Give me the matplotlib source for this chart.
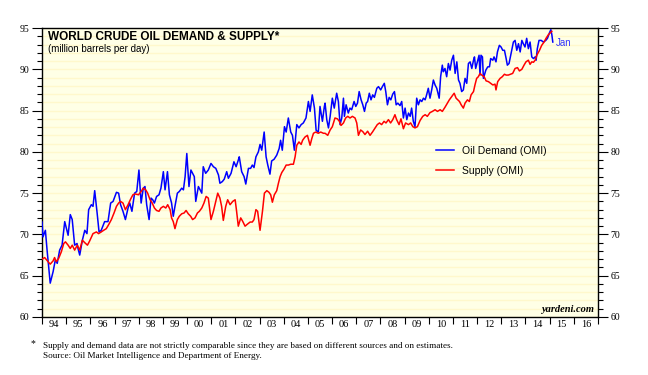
import matplotlib
matplotlib.use('Agg')
import matplotlib.pyplot as plt
from matplotlib.ticker import MultipleLocator, FixedLocator, NullFormatter

# values: decimal year, million barrels per day
demand_year = [
    1994.00, 1994.04, 1994.14, 1994.21, 1994.34, 1994.46, 1994.55, 1994.63, 1994.73, 1994.83, 1994.94,
    1995.08, 1995.17, 1995.25, 1995.35, 1995.45, 1995.49, 1995.56, 1995.67, 1995.77, 1995.86, 1995.93,
    1996.04, 1996.11, 1996.18, 1996.28, 1996.36, 1996.45, 1996.59, 1996.73, 1996.84, 1996.94,
    1997.08, 1997.17, 1997.25, 1997.35, 1997.45, 1997.56, 1997.63, 1997.72, 1997.83,
    1997.92, 1998.01, 1998.10, 1998.19, 1998.26, 1998.33, 1998.43, 1998.51, 1998.58, 1998.65, 1998.74, 1998.84, 1998.92,
    1999.02, 1999.09, 1999.19, 1999.27, 1999.36, 1999.43, 1999.50, 1999.60, 1999.68, 1999.78, 1999.85, 1999.92, 1999.99,
    2000.08, 2000.16, 2000.23, 2000.30, 2000.36, 2000.47, 2000.54, 2000.61, 2000.67, 2000.77, 2000.88, 2000.99,
    2001.09, 2001.19, 2001.30, 2001.36, 2001.46, 2001.54, 2001.64, 2001.71, 2001.82,
    2001.94, 2002.03, 2002.12, 2002.16, 2002.26, 2002.36, 2002.43, 2002.54, 2002.63, 2002.70, 2002.77, 2002.85, 2002.95,
    2003.02, 2003.09, 2003.19, 2003.27, 2003.34, 2003.43, 2003.50, 2003.60, 2003.71, 2003.81, 2003.87, 2003.94,
    2004.03, 2004.10, 2004.19, 2004.29, 2004.36, 2004.44, 2004.54, 2004.63, 2004.72, 2004.81, 2004.92,
    2005.02, 2005.09, 2005.18, 2005.27, 2005.34, 2005.43, 2005.50, 2005.60, 2005.68,
    2005.71, 2005.78, 2005.85, 2005.92,
    2006.01, 2006.09, 2006.19, 2006.26, 2006.33, 2006.40, 2006.47, 2006.51, 2006.58, 2006.67, 2006.74, 2006.81, 2006.91, 2006.98,
    2007.05, 2007.12, 2007.20, 2007.27, 2007.34, 2007.41, 2007.47, 2007.54, 2007.61, 2007.68, 2007.75, 2007.85, 2007.92,
    2008.01, 2008.08, 2008.16, 2008.22, 2008.29, 2008.36, 2008.43, 2008.51, 2008.58, 2008.65, 2008.72, 2008.81, 2008.88, 2008.95,
    2009.02, 2009.09, 2009.16, 2009.23, 2009.29, 2009.36, 2009.43, 2009.50, 2009.57,
    2009.64, 2009.71, 2009.78, 2009.85, 2009.91, 2009.98,
    2010.05, 2010.12, 2010.19, 2010.26, 2010.33, 2010.43, 2010.49, 2010.56, 2010.60, 2010.67, 2010.74, 2010.81, 2010.88, 2010.95,
    2011.02, 2011.09, 2011.16, 2011.23, 2011.29, 2011.36, 2011.43, 2011.50, 2011.57, 2011.64, 2011.71, 2011.78, 2011.85, 2011.89, 2011.94,
    2012.01, 2012.08, 2012.12, 2012.16, 2012.22, 2012.26, 2012.36, 2012.44, 2012.51, 2012.56, 2012.65, 2012.70, 2012.78, 2012.84, 2012.92, 2012.99,
    2013.06, 2013.13, 2013.20, 2013.25, 2013.32,
    2013.43, 2013.50, 2013.57, 2013.64, 2013.71, 2013.78, 2013.85, 2013.91, 2013.98,
    2014.05, 2014.12, 2014.19, 2014.26, 2014.33, 2014.40, 2014.44, 2014.49, 2014.56, 2014.65, 2014.74, 2014.84, 2014.91, 2014.99,
    2015.05, 2015.09, 2015.13,
]
demand_mbd = [
    71.5, 69.7, 70.5, 68.1, 64.1, 65.5, 66.9, 66.5, 68.1, 68.7, 71.55,
    69.9, 72.4, 71.8, 68.7, 68.9, 68.3, 67.5, 69.3, 70.5, 70.1, 73.0,
    73.6, 73.4, 75.3, 72.6, 70.3, 70.5, 71.55, 71.55, 73.8, 74.0,
    75.1, 75.0, 73.6, 72.8, 71.8, 73.2, 73.8, 72.8, 75.0,
    75.2, 77.8, 73.8, 75.6, 75.8, 73.6, 71.8, 74.4, 74.2, 73.8, 74.6, 74.8, 75.6,
    77.6, 75.4, 77.6, 74.8, 73.8, 72.2, 73.4, 75.0, 75.2, 75.6, 75.4, 77.0, 79.8,
    75.8, 77.8, 77.4, 77.0, 74.0, 75.8, 75.4, 75.0, 78.2, 77.4, 77.8, 78.6,
    78.2, 78.0, 77.2, 76.2, 76.4, 76.7, 77.6, 76.8, 77.4,
    78.8, 78.2, 79.0, 79.4, 77.6, 77.0, 76.1, 78.0, 78.0, 78.4, 78.1, 79.4, 80.0,
    80.9, 80.2, 82.4, 79.4, 78.4, 77.3, 78.9, 79.1, 79.6, 80.4, 81.4, 80.2,
    83.05, 82.4, 84.1, 82.4, 82.0, 80.2, 83.3, 82.9, 83.3, 83.5, 84.1,
    86.1, 84.9, 86.9, 85.3, 82.6, 82.4, 85.5, 83.7, 85.5,
    85.9, 83.9, 82.9, 84.3,
    86.5, 85.3, 87.1, 86.1, 83.3, 84.1, 86.5, 84.3, 85.7, 84.7, 85.3, 85.1, 86.1, 85.5,
    85.9, 87.3, 86.3, 85.7, 84.9, 85.9, 86.1, 87.1, 86.3, 86.9, 86.6, 87.7, 87.9,
    87.5, 87.9, 88.3, 87.3, 85.7, 86.6, 86.3, 87.0, 87.3, 85.7, 85.9, 85.6, 86.1, 84.1,
    85.3, 83.9, 84.7, 84.3, 85.3, 83.7, 83.05, 86.5, 85.7,
    86.3, 86.1, 86.5, 86.3, 86.9, 87.7,
    86.5, 87.5, 88.7, 88.1, 87.7, 86.5, 89.1, 90.5, 89.7, 90.1, 89.1, 90.7, 89.9, 91.1,
    91.7, 89.5, 90.9, 88.7, 88.3, 87.3, 87.5, 88.9, 88.3, 90.7, 90.9, 90.1, 91.1, 91.5, 90.1,
    90.9, 91.7, 89.3, 91.7, 91.5, 88.9, 89.9, 90.3, 90.3, 91.3, 91.1, 91.5, 90.9, 92.1, 92.9, 92.7,
    92.3, 92.3, 91.3, 90.5, 90.7,
    92.3, 93.3, 93.5, 92.3, 93.1, 92.1, 93.5, 93.1, 92.7,
    93.75, 92.5, 93.3, 91.5, 91.3, 91.5, 91.1, 92.5, 93.5, 93.5, 93.3, 93.5, 93.75, 94.4,
    94.8, 94.2, 93.3,
]

supply_year = [
    1994.00, 1994.11, 1994.25, 1994.34, 1994.46, 1994.52, 1994.59, 1994.69, 1994.80, 1994.90, 1994.97,
    1995.08, 1995.17, 1995.25, 1995.35, 1995.46, 1995.56, 1995.67, 1995.77, 1995.88, 1995.97,
    1996.11, 1996.25, 1996.34, 1996.45, 1996.55, 1996.66, 1996.76, 1996.87, 1996.98,
    1997.08, 1997.17, 1997.25, 1997.35, 1997.45, 1997.56, 1997.67, 1997.76, 1997.86,
    1997.99, 1998.10, 1998.19, 1998.29, 1998.37, 1998.47, 1998.56, 1998.65, 1998.74, 1998.84, 1998.92,
    1999.02, 1999.12, 1999.20, 1999.30, 1999.36, 1999.43, 1999.50, 1999.60, 1999.68, 1999.78, 1999.88, 1999.96,
    2000.05, 2000.15, 2000.23, 2000.33, 2000.43, 2000.51, 2000.61, 2000.70, 2000.79, 2000.88, 2000.99,
    2001.09, 2001.19, 2001.27, 2001.36, 2001.43, 2001.50, 2001.60, 2001.68, 2001.78,
    2001.89, 2001.99,
    2002.05, 2002.12, 2002.22, 2002.30, 2002.40, 2002.50, 2002.61, 2002.70, 2002.77, 2002.85, 2002.92,
    2003.02, 2003.12, 2003.20, 2003.30, 2003.39, 2003.46, 2003.53, 2003.61, 2003.71, 2003.78, 2003.85, 2003.92,
    2004.01, 2004.10, 2004.19, 2004.29, 2004.40, 2004.47, 2004.54, 2004.63, 2004.72, 2004.78, 2004.88, 2004.98,
    2005.09, 2005.16, 2005.23, 2005.32, 2005.43, 2005.53, 2005.64,
    2005.71, 2005.82, 2005.92,
    2006.01, 2006.12, 2006.22, 2006.30, 2006.37, 2006.47, 2006.56, 2006.65, 2006.74, 2006.84, 2006.95,
    2007.02, 2007.09, 2007.18, 2007.27, 2007.36, 2007.47, 2007.57, 2007.67, 2007.78, 2007.87, 2007.96,
    2008.05, 2008.15, 2008.23, 2008.33, 2008.42, 2008.51, 2008.60, 2008.67, 2008.77, 2008.85, 2008.95,
    2009.04, 2009.16, 2009.25, 2009.34, 2009.43, 2009.53,
    2009.64, 2009.75, 2009.85, 2009.94,
    2010.05, 2010.15, 2010.26, 2010.36, 2010.47, 2010.56, 2010.67, 2010.77, 2010.85, 2010.95,
    2011.05, 2011.13, 2011.20, 2011.27, 2011.34, 2011.43, 2011.50, 2011.60, 2011.68, 2011.75, 2011.85, 2011.91, 2011.98,
    2012.05, 2012.12, 2012.19, 2012.29, 2012.37, 2012.47, 2012.56, 2012.65, 2012.74, 2012.78, 2012.85, 2012.95,
    2013.04, 2013.13, 2013.20, 2013.29,
    2013.47, 2013.57, 2013.67, 2013.75, 2013.85, 2013.94,
    2014.02, 2014.12, 2014.19, 2014.26, 2014.33, 2014.40, 2014.47, 2014.58, 2014.67, 2014.77, 2014.85, 2014.95,
    2015.02, 2015.09,
]
supply_mbd = [
    67.0, 67.2, 66.7, 66.4, 66.8, 67.2, 66.7, 67.1, 67.9, 68.9, 69.1,
    68.7, 68.3, 68.7, 68.1, 68.7, 68.1, 69.3, 69.0, 68.7, 69.2,
    70.1, 70.3, 70.1, 70.3, 70.5, 70.7, 71.2, 71.8, 72.6,
    73.4, 73.8, 74.0, 73.8, 73.0, 73.6, 74.3, 74.8, 74.9,
    74.8, 75.2, 75.6, 75.4, 75.0, 74.2, 73.8, 73.2, 72.9, 72.8, 73.2,
    73.4, 73.2, 73.6, 73.0, 72.0, 71.55, 70.7, 71.8, 72.2, 72.5, 72.6, 72.9,
    72.5, 72.2, 71.8, 72.0, 72.6, 72.8, 73.2, 73.8, 74.6, 74.4, 71.8,
    72.8, 74.0, 75.0, 74.4, 73.4, 71.7, 73.4, 74.2, 73.6,
    74.0, 74.2,
    72.8, 71.0, 72.0, 71.6, 71.0, 71.25, 71.5, 71.5, 71.8, 73.0, 72.8,
    70.5, 72.8, 75.0, 75.3, 75.1, 74.8, 73.9, 74.8, 75.3, 76.2, 77.0, 77.5,
    77.9, 78.4, 78.4, 78.5, 78.5, 79.4, 80.8, 81.2, 80.9, 81.4, 81.8, 82.0,
    80.8, 81.6, 82.25, 82.4, 82.25, 82.4, 82.25,
    82.25, 82.0, 82.65,
    83.05, 84.1, 84.0, 83.7, 83.2, 83.5, 84.1, 84.3, 84.1, 84.3, 84.1,
    83.5, 82.0, 82.65, 82.45, 82.1, 82.5, 82.0, 82.4, 82.9, 83.3, 83.5,
    83.3, 83.7, 83.5, 83.9, 83.5, 83.9, 84.5, 83.9, 83.3, 84.0, 82.8,
    83.5, 83.3, 83.5, 83.05, 82.9, 83.05,
    83.8, 84.3, 84.5, 84.3,
    84.75, 84.9, 85.1, 84.9, 85.1, 84.9, 85.4, 85.9, 86.3, 86.7,
    87.1, 86.5, 86.3, 86.1, 85.7, 85.3, 85.9, 86.3, 86.1, 86.9, 87.3, 88.1, 88.9,
    89.1, 89.5, 89.3, 89.1, 88.6, 88.5, 88.3, 88.1, 88.2, 87.5, 88.5, 88.9,
    89.1, 89.4, 89.3, 89.3,
    89.5, 90.1, 90.2, 89.8, 90.0, 90.5,
    90.9, 91.1, 90.6, 90.9, 90.85, 91.1, 91.7, 92.3, 92.9, 93.3, 93.75, 94.2,
    94.4, 94.6,
]

year_ticks = list(range(1994, 2018))
year_labels = ['94', '95', '96', '97', '98', '99', '00', '01', '02', '03', '04', '05',
               '06', '07', '08', '09', '10', '11', '12', '13', '14', '15', '16']

W, H = 648, 375
fig = plt.figure(figsize=(W / 100, H / 100), dpi=100)
ax = fig.add_axes([42 / W, 1 - 317 / H, (598 - 42) / W, (317 - 28) / H])
ax.set_facecolor('#FFFFE6')

ax.plot(demand_year, demand_mbd, color='#0000FF', lw=1.1, label='Oil Demand (OMI)', zorder=3)
ax.plot(supply_year, supply_mbd, color='#FF0000', lw=1.1, label='Supply (OMI)', zorder=3)

ax.set_xlim(1994, 2017)
ax.set_ylim(60, 95)

serif = 'Liberation Serif'
sans = 'Liberation Sans'

# y axis on both sides, ticks pointing out
ax.yaxis.set_major_locator(MultipleLocator(5))
ax.yaxis.set_minor_locator(MultipleLocator(1))
ax.tick_params(axis='y', which='major', direction='out', length=7, width=0.8,
               left=True, right=True, labelleft=True, labelright=True, labelsize=7, pad=2)
ax.tick_params(axis='y', which='minor', direction='out', length=3.5, width=0.8,
               left=True, right=True)
for lab in ax.get_yticklabels():
    lab.set_family(serif)

# x axis: ticks at year boundaries, labels centred in between
ax.xaxis.set_major_locator(FixedLocator(year_ticks))
ax.xaxis.set_major_formatter(NullFormatter())
ax.xaxis.set_minor_locator(FixedLocator([y + 0.5 for y in year_ticks[:-1]]))
ax.set_xticklabels(year_labels, minor=True)
ax.tick_params(axis='x', which='major', direction='out', length=5, width=0.8)
ax.tick_params(axis='x', which='minor', length=0, labelsize=7.5, pad=2)
for lab in ax.get_xticklabels(minor=True):
    lab.set_family(serif)

# faint horizontal banding in the background
ax.grid(True, which='both', axis='y', color='#FFF8CC', lw=1.0, zorder=0)
ax.set_axisbelow(True)

for s in ax.spines.values():
    s.set_linewidth(1.0)

fig.text(48 / W, 1 - 40.5 / H, 'WORLD CRUDE OIL DEMAND & SUPPLY*', family=sans,
         fontweight='bold', fontsize=8.5, va='baseline')
fig.text(48 / W, 1 - 52.5 / H, '(million barrels per day)', family=sans,
         fontsize=7, va='baseline')

ax.text(2015.25, 93.2, 'Jan', color='#3333FF', family=sans, fontsize=7, va='center')
ax.text(0.993, 0.012, 'yardeni.com', transform=ax.transAxes, ha='right', va='bottom',
        family=serif, style='italic', fontweight='bold', fontsize=7.5)

leg = ax.legend(loc='upper left', bbox_to_anchor=(436 / W, 1 - 146 / H),
                bbox_transform=fig.transFigure, frameon=False, borderpad=0,
                borderaxespad=0, handlelength=1.7, handletextpad=0.8,
                labelspacing=0.95, prop={'family': sans, 'size': 7.5})

fig.text(31 / W, 1 - 346 / H, '*', family=serif, fontsize=7, va='baseline')
fig.text(43 / W, 1 - 348 / H,
         'Supply and demand data are not strictly comparable since they are based on different sources and on estimates.',
         family=serif, fontsize=6.6, va='baseline')
fig.text(43 / W, 1 - 358 / H, 'Source: Oil Market Intelligence and Department of Energy.',
         family=serif, fontsize=6.6, va='baseline')

fig.savefig('out.png', dpi=100)
